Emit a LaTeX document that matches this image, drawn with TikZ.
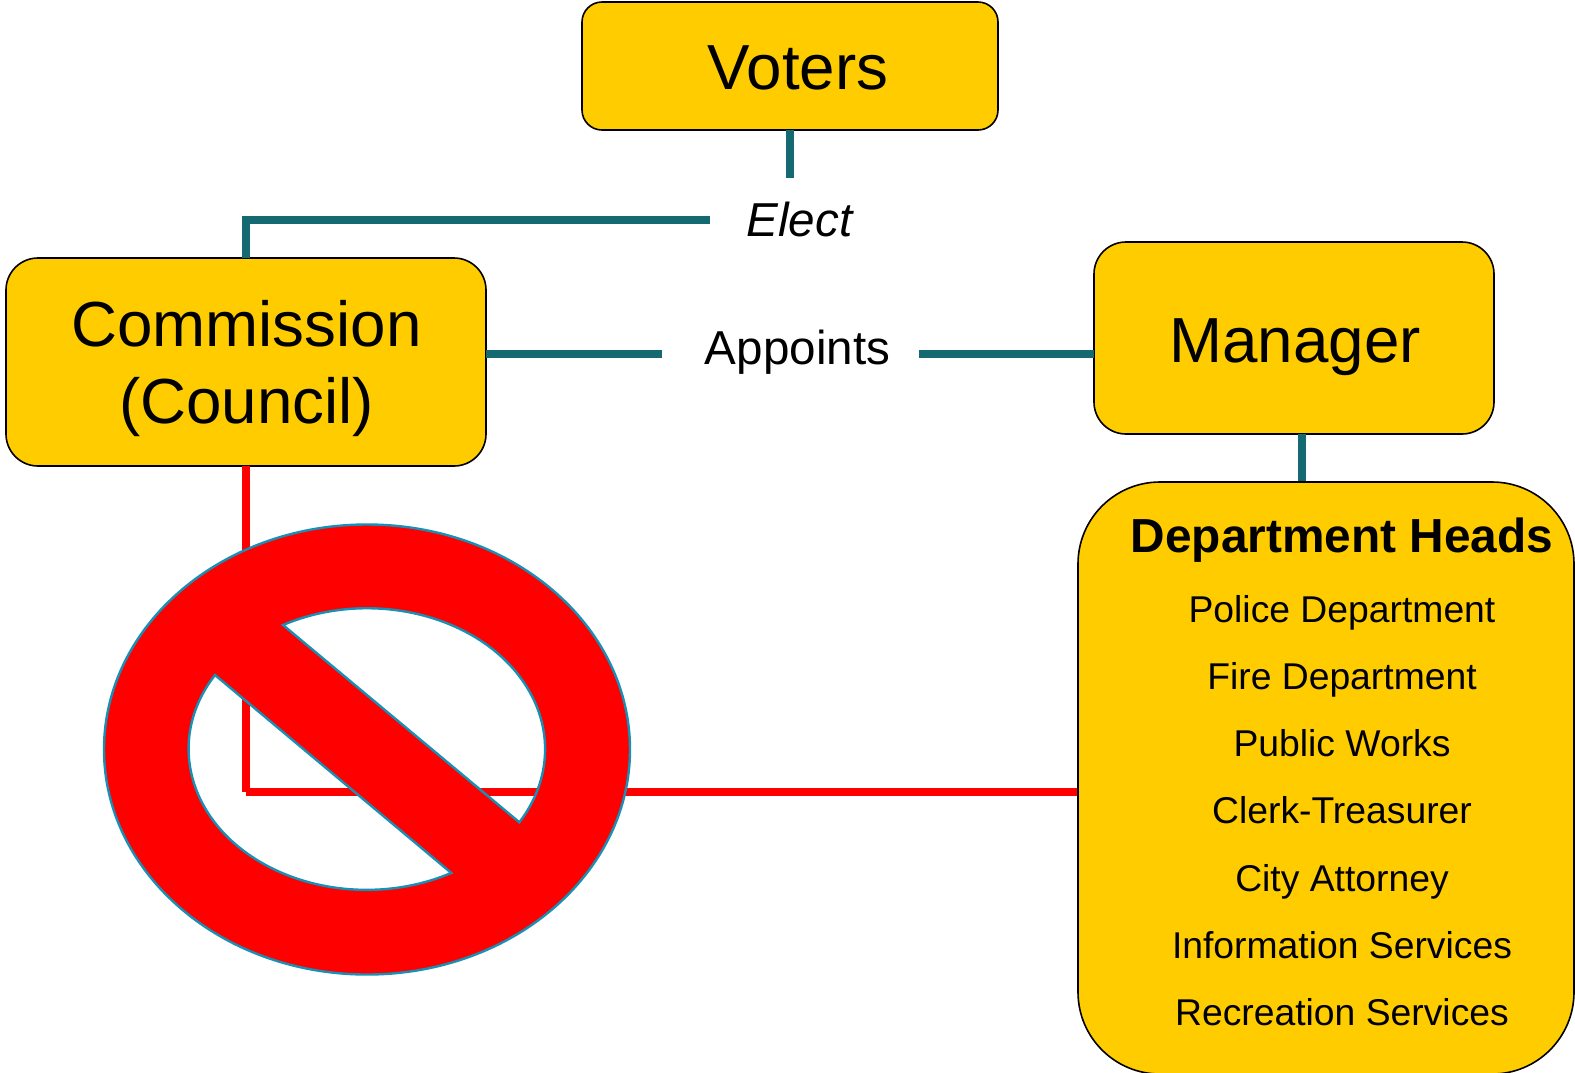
\documentclass[tikz,border=0pt]{standalone}
\usepackage{fontspec}
\setmainfont{Liberation Sans}
\definecolor{boxgold}{HTML}{FFCC00}
\definecolor{tealline}{HTML}{146A70}
\definecolor{signedge}{HTML}{1A8FB5}
\begin{document}
\begin{tikzpicture}[x=1pt,y=-1pt,
  box/.style={draw=black,line width=1.6pt,fill=boxgold,inner sep=0pt,outer sep=0pt},
  big/.style={inner sep=0pt,outer sep=0pt,anchor=base,font=\fontsize{63.7}{76}\selectfont},
  mid/.style={inner sep=0pt,outer sep=0pt,anchor=base,font=\fontsize{47.6}{57}\selectfont},
  small/.style={inner sep=0pt,outer sep=0pt,anchor=base,font=\fontsize{37.3}{45}\selectfont},
  tealcon/.style={draw=tealline,line width=8pt},
  redcon/.style={draw=red,line width=8pt}]
\useasboundingbox (0,0) rectangle (1575,1072);
% boxes
\node[box,rounded corners=20pt,minimum width=416pt,minimum height=128pt] (voters) at (790,66) {};
\node[box,rounded corners=32pt,minimum width=480pt,minimum height=208pt] (comm) at (246,362) {};
\node[box,rounded corners=32pt,minimum width=400pt,minimum height=192pt] (mgr) at (1294,338) {};
% free ends
\coordinate (voterEnd) at (790,178);
\coordinate (electEnd) at (710,219.5);
\coordinate (appL) at (662,353.5);
\coordinate (appR) at (919,353.5);
\coordinate (mgrTop) at (1302,434);
\coordinate (deptTop) at (1302,482);
\coordinate (redCorner) at (246,792);
% connectors under the department box
\draw[tealcon] (voters.south) -- (voterEnd);
\draw[tealcon] (comm.north) |- (electEnd);
\draw[tealcon] (comm.east |- appL) -- (appL);
\draw[tealcon] (appR) -- (mgr.west |- appR);
\draw[tealcon] (mgrTop) -- (deptTop);
\draw[redcon] (comm.south) -- (redCorner);
\draw[redcon] (redCorner) -- (1078,792);
\node[box,rounded corners=82pt,minimum width=496pt,minimum height=592pt] (dept) at (1326,778) {};
% prohibition sign
\path[fill=red,even odd rule,draw=signedge,line width=2.4pt]
  (630,749.5) arc[start angle=0,end angle=360,x radius=263,y radius=225]
  (283,625) arc[start angle=-118.2,end angle=31.2,x radius=178,y radius=141] -- cycle
  (215,675) arc[start angle=-148.4,end angle=-298.4,x radius=178,y radius=141] -- cycle;
% texts
\node[big] (tVoters) at (798,89.5) {Voters};
\node[big] (tComm) at (246.5,346.5) {Commission};
\node[big] (tCouncil) at (246.5,423) {(Council)};
\node[big] (tMgr) at (1295,362) {Manager};
\node[mid,font=\fontsize{47.6}{57}\selectfont\itshape] (tElect) at (799.5,236) {Elect};
\node[mid] (tApp) at (797.5,364.5) {Appoints};
\node[mid,font=\fontsize{47.8}{57}\selectfont\bfseries] (tDept) at (1342,552) {Department Heads};
\node[small] (d1) at (1342,622) {Police Department};
\node[small] (d2) at (1342,689) {Fire Department};
\node[small] (d3) at (1342,756) {Public Works};
\node[small] (d4) at (1342,823) {Clerk-Treasurer};
\node[small] (d5) at (1342,891) {City Attorney};
\node[small] (d6) at (1342,958) {Information Services};
\node[small] (d7) at (1342,1025) {Recreation Services};
\end{tikzpicture}
\end{document}
